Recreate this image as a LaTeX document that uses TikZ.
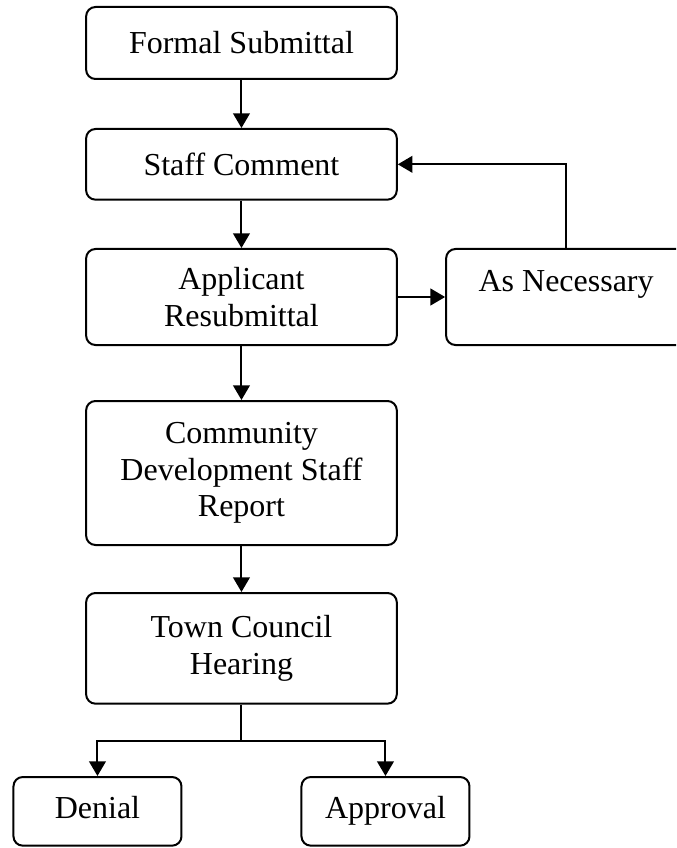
\documentclass[tikz,border=0pt]{standalone}
\usepackage{fontspec}
\setmainfont{Liberation Serif}
\usepackage{tikz}
\usetikzlibrary{arrows.meta, positioning}
\tikzset{
    box/.style={rectangle, rounded corners=7pt, draw, line width=1.5pt, text centered, align=center, font=\fontsize{24}{27.6}\selectfont},
    stepbox/.style={box, minimum width=233pt},
    endbox/.style={box, minimum width=126pt, inner ysep=0pt, text height=31pt, text depth=20.5pt},
    flow/.style={-{Triangle[length=11pt, width=12.5pt]}, line width=1.5pt}
}

\begin{document}
\begin{tikzpicture}[
    node distance=36pt,
    loopbox/.style={box, minimum width=180pt, inner ysep=0pt, text height=32pt, text depth=40pt}
]
    \clip (-181.1pt,32.25pt) rectangle (325.9pt,-603.75pt);

    % Main column
    \node[stepbox, minimum height=54pt] (formal) {Formal Submittal};
    \node[stepbox, minimum height=53pt, below=of formal] (staff) {Staff Comment};
    \node[stepbox, minimum height=72pt, below=35.5pt of staff] (resub) {Applicant\\Resubmittal};
    \node[stepbox, minimum height=108pt, below=40.5pt of resub] (report) {Community\\Development Staff\\Report};
    \node[stepbox, minimum height=83pt, below=34.5pt of report] (hearing) {Town Council\\Hearing};

    % Loop back
    \node[loopbox, right=35.5pt of resub] (asneeded) {As Necessary};

    % Outcomes
    \coordinate[below=27pt of hearing] (split);
    \node[endbox, below=53.5pt of hearing, xshift=-108pt] (denial) {Denial};
    \node[endbox, below=53.5pt of hearing, xshift=108pt] (approval) {Approval};

    % Connections
    \draw[flow] (formal) -- (staff);
    \draw[flow] (staff) -- (resub);
    \draw[flow] (resub) -- (report);
    \draw[flow] (report) -- (hearing);
    \draw[flow] (resub) -- (asneeded);
    \draw[flow] (asneeded.north) |- (staff.east);
    \draw[flow] (hearing.south) -- (split) -| (denial.north);
    \draw[flow] (split) -| (approval.north);
\end{tikzpicture}
\end{document}
